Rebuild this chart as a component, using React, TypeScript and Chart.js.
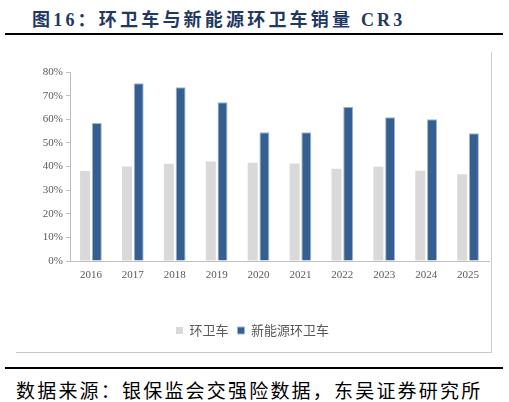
import { useEffect, useRef } from "react";
import Chart from "chart.js/auto";

const years = ["2016", "2017", "2018", "2019", "2020", "2021", "2022", "2023", "2024", "2025"];
const sanitationCr3 = [38.1, 40.0, 41.2, 42.1, 41.6, 41.3, 39.1, 39.9, 38.2, 36.7];
const newEnergyCr3 = [58.4, 75.2, 73.5, 67.2, 54.5, 54.5, 65.3, 60.8, 60.0, 54.1];
const seriesNames = ["环卫车", "新能源环卫车"];

const serif = "Liberation Serif";
const cjk = '"Liberation Serif", "Noto Sans CJK SC", sans-serif';

export default function App() {
  const canvasRef = useRef<HTMLCanvasElement | null>(null);
  const chartRef = useRef<Chart | null>(null);

  useEffect(() => {
    document.body.style.margin = "0";
    if (!canvasRef.current) return;
    const ctx = canvasRef.current.getContext("2d");
    if (!ctx) return;

    if (chartRef.current) chartRef.current.destroy();

    chartRef.current = new Chart(ctx, {
      type: "bar",
      data: {
        labels: years,
        datasets: [
          {
            label: seriesNames[0],
            data: sanitationCr3,
            backgroundColor: "#d9d9d9",
            borderWidth: 0,
          },
          {
            label: seriesNames[1],
            data: newEnergyCr3,
            backgroundColor: "#365f91",
            borderColor: "#9fb6d6",
            borderWidth: 1,
          },
        ],
      },
      options: {
        animation: false,
        responsive: false,
        maintainAspectRatio: false,
        layout: { padding: { top: 20, right: 2, bottom: 5, left: 0 } },
        datasets: { bar: { categoryPercentage: 0.56, barPercentage: 0.85 } },
        scales: {
          x: {
            grid: { display: false },
            border: { display: true, color: "#bfbfbf" },
            ticks: { color: "#595959", font: { family: serif, size: 11 }, padding: 0 },
            afterFit: (scale: any) => {
              scale.height = 54;
            },
          },
          y: {
            min: 0,
            max: 80,
            grid: { drawOnChartArea: false, drawTicks: true, tickLength: 4, color: "#bfbfbf" },
            border: { display: true, color: "#bfbfbf" },
            ticks: {
              stepSize: 10,
              color: "#595959",
              font: { family: serif, size: 11 },
              padding: 3,
              callback: (v: any) => v + "%",
            },
            afterFit: (scale: any) => {
              scale.width = 54;
            },
          },
        },
        plugins: {
          tooltip: { enabled: false },
          legend: {
            position: "bottom",
            labels: {
              boxWidth: 7,
              boxHeight: 7,
              padding: 9,
              color: "#595959",
              font: { family: '"Noto Sans CJK SC", sans-serif', size: 13 },
            },
          },
        },
      },
    });

    return () => chartRef.current?.destroy();
  }, []);

  return (
    <div style={{ position: "relative", width: 509, height: 402, background: "#fff", overflow: "hidden" }}>
      <div
        style={{
          position: "absolute",
          left: 32,
          top: 5,
          fontFamily: cjk,
          fontWeight: 700,
          fontSize: 18,
          letterSpacing: 3.2,
          color: "#1f3864",
          whiteSpace: "nowrap",
        }}
      >
        图16：环卫车与新能源环卫车销量 CR3
      </div>
      <div style={{ position: "absolute", left: 5, top: 33, width: 498, height: 2, background: "#000" }} />
      <div
        style={{
          position: "absolute",
          left: 16,
          top: 52,
          width: 475,
          height: 300,
          borderRight: "1px solid #c8c8c8",
          borderBottom: "1px solid #c8c8c8",
        }}
      >
        <canvas ref={canvasRef} width={475} height={300} style={{ width: 475, height: 300 }}></canvas>
      </div>
      <div style={{ position: "absolute", left: 5, top: 367, width: 498, height: 2, background: "#000" }} />
      <div
        style={{
          position: "absolute",
          left: 16,
          top: 376,
          fontFamily: '"Noto Sans CJK SC", sans-serif',
          fontSize: 19,
          letterSpacing: 2.2,
          color: "#000",
          whiteSpace: "nowrap",
        }}
      >
        数据来源：银保监会交强险数据，东吴证券研究所
      </div>
    </div>
  );
}
